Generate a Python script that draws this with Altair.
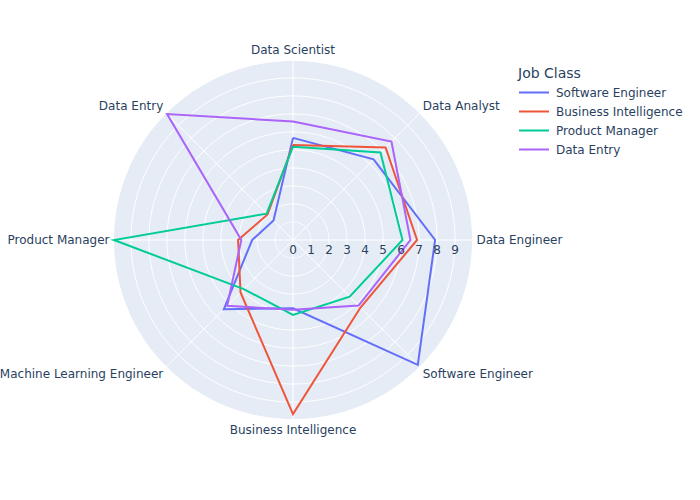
import altair as alt
import pandas as pd
import numpy as np

# ---- data ----
categories = ["Data Scientist", "Data Analyst", "Data Engineer", "Software Engineer",
              "Business Intelligence", "Machine Learning Engineer", "Product Manager", "Data Entry"]
job_classes = ["Software Engineer", "Business Intelligence", "Product Manager", "Data Entry"]
software_engineer = [5.67, 6.33, 7.89, 9.80, 3.79, 5.43, 2.27, 1.53]
business_intelligence = [5.27, 7.27, 6.89, 5.30, 9.67, 4.12, 3.05, 2.00]
product_manager = [5.18, 6.87, 6.08, 4.45, 4.16, 3.86, 9.94, 2.07]
data_entry = [6.58, 7.73, 6.52, 5.15, 3.88, 5.17, 2.87, 9.89]
radial_ticks = [0, 1, 2, 3, 4, 5, 6, 7, 8, 9]
colors = ["#636efa", "#EF553B", "#00cc96", "#ab63fa"]

series = [software_engineer, business_intelligence, product_manager, data_entry]
N = len(categories)
R = max(max(s) for s in series)

FONT = "DejaVu Sans"
TXT = "#2a3f5f"
BG = "#E5ECF6"
SIZE = 358

# ---- tables built from the arrays ----
rows = []
for jc, vals in zip(job_classes, series):
    closed = vals + [vals[0]]
    for i, v in enumerate(closed):
        rows.append({"job": jc, "idx": i, "value": v})
lines_df = pd.DataFrame(rows)

cat_df = pd.DataFrame({"category": categories, "idx": list(range(N))})
grid_df = pd.DataFrame([{"r": r, "deg": d} for r in radial_ticks[1:] for d in np.arange(0, 362, 2)])
tick_df = pd.DataFrame({"t": radial_ticks, "label": [str(t) for t in radial_ticks]})

xs = alt.Scale(domain=[-R, R], nice=False, zero=False)
ys = alt.Scale(domain=[-R, R], nice=False, zero=False)

def X(f):
    return alt.X(f, type="quantitative", scale=xs, axis=None)

def Y(f):
    return alt.Y(f, type="quantitative", scale=ys, axis=None)

# background disc
disc = alt.Chart(alt.sequence(0, 181, as_="deg")).transform_calculate(
    x=f"{R}*cos(datum.deg*PI/180)",
    y=f"{R}*sin(datum.deg*PI/180)",
    y2=f"-{R}*sin(datum.deg*PI/180)",
).mark_area(color=BG).encode(x=X("x"), y=Y("y"), y2="y2:Q")

# circular grid
grid = alt.Chart(grid_df).transform_calculate(
    x="datum.r*cos(datum.deg*PI/180)",
    y="datum.r*sin(datum.deg*PI/180)",
).mark_line(color="white", strokeWidth=1).encode(
    x=X("x"), y=Y("y"), detail="r:N", order="deg:Q"
)

# spokes
spokes = alt.Chart(cat_df).transform_calculate(
    x0="0", y0="0",
    x=f"{R}*sin(datum.idx*2*PI/{N})",
    y=f"{R}*cos(datum.idx*2*PI/{N})",
).mark_rule(color="white", strokeWidth=1).encode(
    x=X("x0"), y=Y("y0"), x2="x:Q", y2="y:Q"
)

# radial tick labels
ticks = alt.Chart(tick_df).transform_calculate(y0="0").mark_text(
    font=FONT, fontSize=12, color=TXT, dy=10, align="center", baseline="middle"
).encode(x=X("t"), y=Y("y0"), text="label:N")

# category labels
lab_base = alt.Chart(cat_df).transform_calculate(
    s=f"sin(datum.idx*2*PI/{N})",
    c=f"cos(datum.idx*2*PI/{N})",
).transform_calculate(
    x=f"({R}+0.25)*datum.s",
    y=f"{R}*datum.c+0.62*datum.c",
)
lab_left = lab_base.transform_filter("datum.s > 0.01").mark_text(
    font=FONT, fontSize=12, color=TXT, align="left", baseline="middle"
).encode(x=X("x"), y=Y("y"), text="category:N")
lab_right = lab_base.transform_filter("datum.s < -0.01").mark_text(
    font=FONT, fontSize=12, color=TXT, align="right", baseline="middle"
).encode(x=X("x"), y=Y("y"), text="category:N")
lab_center = lab_base.transform_filter("abs(datum.s) <= 0.01").mark_text(
    font=FONT, fontSize=12, color=TXT, align="center", baseline="middle"
).encode(x=X("x"), y=Y("y"), text="category:N")

# series lines
lines = alt.Chart(lines_df).transform_calculate(
    x=f"datum.value*sin(datum.idx*2*PI/{N})",
    y=f"datum.value*cos(datum.idx*2*PI/{N})",
).mark_line(strokeWidth=2).encode(
    x=X("x"), y=Y("y"),
    order="idx:Q",
    color=alt.Color(
        "job:N",
        scale=alt.Scale(domain=job_classes, range=colors),
        sort=job_classes,
        legend=alt.Legend(
            title="Job Class", orient="none", legendX=404, legendY=6,
            symbolType="stroke", symbolSize=900, symbolStrokeWidth=2,
            labelFont=FONT, labelFontSize=12, labelColor=TXT,
            titleFont=FONT, titleFontSize=14, titleFontWeight="normal", titleColor=TXT,
            padding=0, titlePadding=3, rowPadding=2, clipHeight=17, labelOffset=6,
        ),
    ),
)

chart = alt.layer(
    disc, grid, spokes, lines, ticks, lab_left, lab_right, lab_center
).properties(
    width=SIZE, height=SIZE,
    autosize=alt.AutoSizeParams(type="none"),
    padding={"left": 114, "top": 61, "right": 228, "bottom": 81},
    background="white",
).configure_view(stroke=None)

chart.save("out.html", embed_options={"renderer": "svg", "actions": False})
